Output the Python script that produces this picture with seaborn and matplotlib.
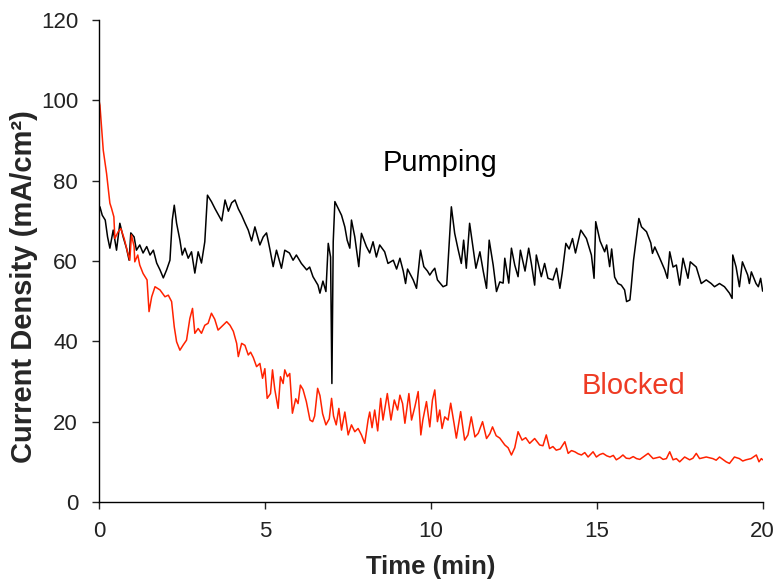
import numpy as np
import pandas as pd
import matplotlib
matplotlib.use("Agg")
import matplotlib.pyplot as plt
import seaborn as sns

# Pumping trace (time in min, current density in mA/cm2)
pump_t = [0.0, 0.03, 0.1, 0.19, 0.26, 0.33, 0.43, 0.53, 0.63, 0.73, 0.83, 0.91, 0.96, 1.06, 1.13,
          1.23, 1.33, 1.44, 1.54, 1.64, 1.74, 1.84, 1.94, 2.04, 2.14, 2.21, 2.27, 2.34, 2.44, 2.51,
          2.59, 2.69, 2.79, 2.89, 2.99, 3.09, 3.19, 3.27, 3.39, 3.5, 3.6, 3.7, 3.8, 3.9, 4.0,
          4.1, 4.2, 4.3, 4.4, 4.5, 4.6, 4.7, 4.85, 4.95, 5.05, 5.15, 5.25, 5.35, 5.5, 5.6,
          5.74, 5.85, 5.95, 6.1, 6.26, 6.35, 6.45, 6.6, 6.66, 6.75, 6.84, 6.91, 6.98, 7.02, 7.06,
          7.11, 7.21, 7.31, 7.41, 7.48, 7.56, 7.61, 7.71, 7.83, 7.91, 8.06, 8.16, 8.26, 8.36, 8.46,
          8.61, 8.71, 8.87, 8.97, 9.07, 9.17, 9.24, 9.3, 9.47, 9.57, 9.69, 9.79, 9.9, 9.97, 10.05,
          10.12, 10.2, 10.37, 10.48, 10.62, 10.72, 10.82, 10.92, 10.99, 11.07, 11.17, 11.28, 11.36, 11.48, 11.58,
          11.68, 11.76, 11.88, 11.98, 12.08, 12.18, 12.23, 12.35, 12.43, 12.53, 12.63, 12.7, 12.84, 12.95, 13.03,
          13.13, 13.18, 13.33, 13.43, 13.53, 13.68, 13.79, 13.89, 13.96, 14.07, 14.17, 14.27, 14.36, 14.52, 14.69,
          14.84, 14.92, 14.97, 15.1, 15.24, 15.3, 15.39, 15.45, 15.54, 15.64, 15.74, 15.84, 15.9, 16.0, 16.04,
          16.11, 16.2, 16.27, 16.35, 16.5, 16.63, 16.68, 16.75, 16.9, 17.05, 17.13, 17.2, 17.3, 17.4, 17.5,
          17.6, 17.75, 17.82, 18.0, 18.15, 18.3, 18.45, 18.55, 18.7, 18.85, 19.0, 19.08, 19.1, 19.2, 19.3,
          19.39, 19.55, 19.6, 19.66, 19.8, 19.87, 19.94, 20.0]
pump_y = [72, 73.5, 71.4, 70.2, 66, 63.2, 67.7, 62.7, 69.4, 66, 63.2, 60.2, 67, 66, 62.7,
          64, 62, 63.6, 61.5, 62.7, 59.5, 57.8, 55.8, 57.8, 60.2, 70.2, 73.9, 69.4, 65.2, 61.5,
          63.2, 60.7, 62.3, 57, 62.3, 59.5, 64.8, 76.4, 74.8, 73, 71.5, 70, 75.2, 72.4, 74.5,
          75.2, 73, 71.4, 69.5, 67.7, 65, 68.5, 64, 66, 67, 63, 58.6, 62.7, 58.2, 62.7,
          62, 60.2, 61.5, 59.4, 57.8, 58.5, 56.1, 54, 52, 55, 52.4, 64.4, 61, 29.5, 64.8,
          74.8, 73.1, 71.4, 68.5, 65.2, 63.2, 70.2, 66, 58.6, 66.9, 63.6, 62, 64.8, 61, 64,
          62.3, 59.4, 60.2, 58, 60.7, 57.5, 54.4, 58, 55.3, 53.2, 62.7, 58.6, 57.5, 56.5, 57.5,
          58.2, 55.3, 53.6, 54, 73.5, 66.9, 63, 59.4, 65.2, 58.2, 69.4, 63, 58.2, 62.3, 57.5,
          53.2, 65.2, 59, 52.4, 54.8, 54.5, 60.7, 54.5, 63.2, 59, 56.1, 62.7, 57.5, 63.2, 59.4,
          54, 61.5, 56.1, 59.4, 55.7, 55.3, 58.2, 53.2, 57, 64.4, 63, 65.6, 62, 67.7, 65.6,
          61.5, 55.7, 69.8, 65, 62.3, 64, 58.6, 63, 56, 54.4, 54, 52.8, 49.9, 50.3, 53.6,
          60.2, 66, 70.6, 68.5, 67.3, 64.5, 61.9, 63.5, 60.7, 57.8, 55.7, 62.3, 58.5, 59, 54,
          60.7, 55.7, 59.8, 58.5, 54.4, 55.3, 54.4, 53.6, 54.4, 53.6, 52, 50.7, 61.5, 58.5, 53.6,
          59.8, 56.5, 54.4, 57.3, 54.4, 53.6, 55.7, 52.5]

# Blocked trace
block_t = [0.0, 0.03, 0.13, 0.23, 0.33, 0.38, 0.45, 0.48, 0.58, 0.66, 0.76, 0.86, 0.93, 0.98, 1.06,
           1.08, 1.17, 1.23, 1.33, 1.45, 1.51, 1.59, 1.69, 1.84, 1.99, 2.09, 2.19, 2.27, 2.34, 2.44,
           2.54, 2.64, 2.74, 2.82, 2.89, 2.99, 3.09, 3.19, 3.29, 3.39, 3.49, 3.59, 3.74, 3.85, 3.95,
           4.05, 4.15, 4.2, 4.3, 4.4, 4.5, 4.57, 4.65, 4.75, 4.85, 4.93, 5.0, 5.07, 5.17, 5.23,
           5.3, 5.4, 5.47, 5.55, 5.6, 5.68, 5.75, 5.83, 5.93, 6.0, 6.07, 6.15, 6.25, 6.36, 6.44,
           6.5, 6.59, 6.66, 6.74, 6.84, 6.94, 7.01, 7.07, 7.15, 7.23, 7.31, 7.41, 7.51, 7.61, 7.71,
           7.81, 7.91, 8.01, 8.11, 8.16, 8.23, 8.31, 8.4, 8.49, 8.56, 8.69, 8.8, 8.9, 9.0, 9.07,
           9.15, 9.22, 9.34, 9.42, 9.52, 9.62, 9.7, 9.76, 9.87, 9.97, 10.05, 10.12, 10.2, 10.27, 10.34,
           10.42, 10.52, 10.6, 10.7, 10.77, 10.9, 11.02, 11.12, 11.22, 11.33, 11.43, 11.56, 11.68, 11.78, 11.86,
           11.97, 12.08, 12.23, 12.33, 12.43, 12.53, 12.63, 12.75, 12.86, 12.98, 13.13, 13.28, 13.38, 13.48, 13.58,
           13.68, 13.78, 13.9, 14.04, 14.14, 14.24, 14.34, 14.44, 14.54, 14.64, 14.74, 14.89, 14.99, 15.09, 15.19,
           15.3, 15.4, 15.5, 15.59, 15.69, 15.79, 15.89, 15.99, 16.1, 16.2, 16.3, 16.4, 16.55, 16.7, 16.8,
           16.9, 17.0, 17.1, 17.2, 17.3, 17.4, 17.5, 17.65, 17.8, 17.9, 18.0, 18.1, 18.2, 18.3, 18.5,
           18.6, 18.7, 18.8, 18.9, 19.0, 19.15, 19.3, 19.4, 19.5, 19.65, 19.81, 19.89, 19.96, 20.0]
block_y = [100, 98.8, 87.6, 81.8, 74.4, 73.1, 71, 65.6, 67.3, 68.1, 65.6, 62.3, 60.2, 66.5, 63.6,
           59.8, 61.5, 59, 56.9, 55.3, 47.4, 51.1, 53.6, 52.8, 51.1, 51.5, 49.9, 43.6, 39.9, 37.8,
           39.1, 40.3, 45.7, 48.2, 42, 43.2, 42, 44, 44.5, 47, 45.5, 42.8, 44, 44.9, 44,
           42.5, 39.5, 36.2, 39.5, 39, 36.6, 37.3, 36, 33.7, 34.5, 30.8, 33.2, 25.8, 27, 32.9,
           28, 23.3, 31.2, 29.5, 32.9, 31.2, 32, 22.1, 25.7, 24.5, 29.1, 28, 25, 20.4, 20,
           21.4, 28.3, 26.5, 22, 19.2, 20.7, 25.8, 21.4, 19.2, 23.3, 17.9, 22.4, 16.7, 19.2, 17.5,
           18.3, 16.7, 14.6, 20.4, 22.4, 18.5, 22.9, 17.7, 25.8, 20.4, 27, 20.4, 25.4, 22.9, 26.6,
           24.5, 19.6, 27, 20.4, 23.7, 27.5, 16.7, 20.4, 25, 18.7, 25.4, 27.9, 20, 22.9, 18.3,
           21.2, 20.4, 24.6, 19.6, 15.9, 22.5, 15.4, 16.7, 21.2, 16.2, 17.1, 20, 15.8, 17, 18.7,
           16.5, 15.9, 14.2, 13.5, 11.7, 13.5, 17.5, 15.4, 16, 14.6, 15.8, 14.2, 14, 16.7, 13.3,
           13.8, 12.9, 13.2, 15, 12.1, 12.8, 12.5, 12, 11.7, 12.3, 11.2, 12.5, 11.2, 11.8, 12.1,
           11.5, 11.2, 11.6, 10.5, 11, 11.7, 10.9, 10.8, 11.3, 10.8, 10.6, 11.2, 12.1, 10.8, 11,
           11.2, 10.6, 10.8, 12.5, 10.5, 10.8, 10, 11.2, 10.5, 10.9, 12.1, 10.8, 11, 11.2, 10.8,
           10.4, 11.2, 10.6, 10, 9.6, 11.2, 10.8, 10.2, 10.5, 10.8, 11.7, 10, 10.8, 10.5]

x_ticks = [0, 5, 10, 15, 20]
y_ticks = [0, 20, 40, 60, 80, 100, 120]

pump = pd.DataFrame({"Time": pump_t, "Current": pump_y})
block = pd.DataFrame({"Time": block_t, "Current": block_y})

sns.set_style("ticks")
plt.rcParams["font.family"] = ["Liberation Sans", "DejaVu Sans"]

fig = plt.figure(figsize=(7.79, 5.82), dpi=100)
ax = fig.add_axes([0.127, 0.1375, 0.852, 0.828])

sns.lineplot(data=pump, x="Time", y="Current", ax=ax, color="black",
             lw=1.1, sort=False, estimator=None)
sns.lineplot(data=block, x="Time", y="Current", ax=ax, color="#ff2200",
             lw=1.1, sort=False, estimator=None)

ax.set_xlim(0, 20)
ax.set_ylim(0, 120)
ax.set_xticks(x_ticks)
ax.set_yticks(y_ticks)
ax.tick_params(axis="both", labelsize=16, length=5, width=1, direction="out",
               colors="#222222")
ax.tick_params(axis="x", pad=9)
ax.tick_params(axis="y", pad=10)
for s in ["left", "bottom"]:
    ax.spines[s].set_color("black")
    ax.spines[s].set_linewidth(1)
sns.despine(ax=ax)

ax.set_xlabel("Time (min)", fontsize=18.5, fontweight="bold", labelpad=9)
ax.set_ylabel("Current Density (mA/cm²)", fontsize=21, fontweight="bold")
ax.yaxis.set_label_coords(-0.092, 0.446)

ax.text(10.27, 84.5, "Pumping", fontsize=21, color="black", ha="center", va="center")
ax.text(16.1, 29, "Blocked", fontsize=21, color="#ee3b24", ha="center", va="center")

fig.savefig("out.png", dpi=100)
plt.close(fig)
